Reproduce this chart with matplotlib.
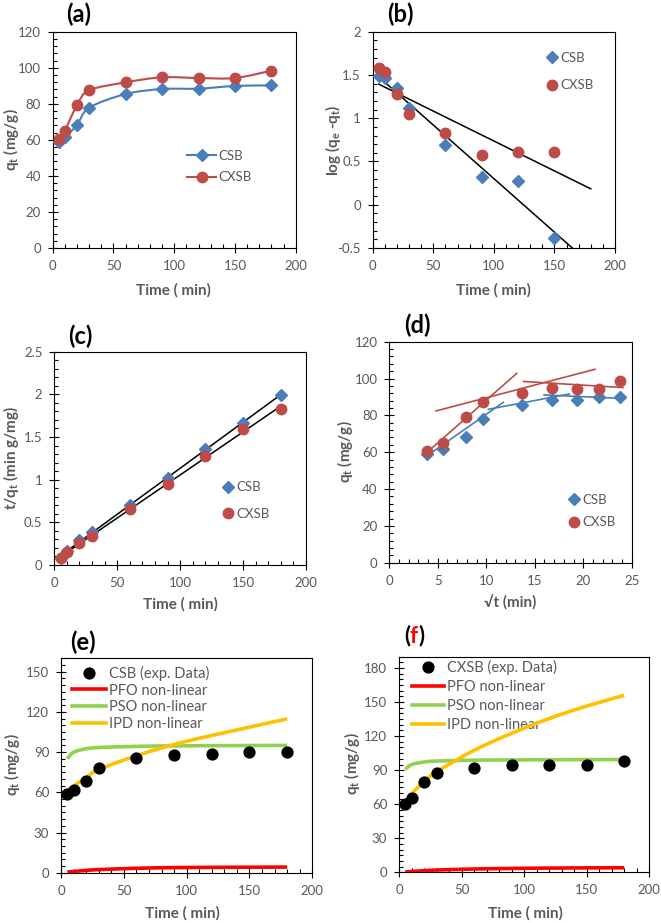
import numpy as np
import matplotlib
matplotlib.use('Agg')
import matplotlib.pyplot as plt
from matplotlib.path import Path
from matplotlib.patches import PathPatch
from matplotlib.lines import Line2D
from matplotlib.ticker import MultipleLocator, FuncFormatter

plt.rcParams['font.family'] = ['Lato', 'DejaVu Sans']
plt.rcParams['mathtext.fontset'] = 'custom'
plt.rcParams['mathtext.rm'] = 'Lato'
plt.rcParams['mathtext.it'] = 'Lato:italic'
plt.rcParams['mathtext.bf'] = 'Lato:bold'

#experimental data
time = [5, 10, 20, 30, 60, 90, 120, 150, 180]
qt_csb = [59.0, 61.6, 68.2, 77.8, 85.4, 88.2, 88.4, 89.9, 90.2]
qt_cxsb = [60.5, 65.1, 79.3, 87.5, 91.9, 94.7, 94.3, 94.3, 98.4]

#(b) pseudo first order, linear form
time_pfo = [5, 10, 20, 30, 60, 90, 120, 150]
log_csb = [1.488, 1.468, 1.353, 1.114, 0.686, 0.320, 0.274, -0.385]
log_cxsb = [1.584, 1.534, 1.280, 1.049, 0.825, 0.579, 0.613, 0.609]

#(c) pseudo second order, linear form
tq_csb = [0.085, 0.162, 0.293, 0.386, 0.703, 1.020, 1.357, 1.668, 1.996]
tq_cxsb = [0.083, 0.154, 0.252, 0.343, 0.653, 0.950, 1.273, 1.591, 1.829]

#(d) intraparticle diffusion
sqrt_t = [3.85, 5.57, 7.87, 9.70, 13.69, 16.75, 19.39, 21.66, 23.80]
ipd_csb_x = [(3.85, 11.76), (10.21, 18.56), (15.96, 24.0)]
ipd_csb_y = [(57.9, 87.1), (83.3, 91.6), (91.1, 89.2)]
ipd_cxsb_x = [(3.8, 13.14), (4.82, 21.2), (13.85, 24.1)]
ipd_cxsb_y = [(59.5, 102.8), (82.4, 105.0), (98.4, 95.1)]

#(e),(f) non-linear models
pfo_e = [0.4, 0.9, 1.7, 2.3, 3.3, 3.8, 4.0, 4.1, 4.2]
pso_e = [85.0, 89.9, 92.5, 93.4, 94.3, 94.6, 94.8, 94.9, 95.0]
ipd_e = [61.0, 64.5, 71.0, 77.0, 87.3, 95.7, 102.4, 108.6, 114.8]
pfo_f = [0.3, 0.7, 1.4, 2.0, 2.9, 3.4, 3.7, 3.9, 4.0]
pso_f = [90.6, 94.9, 97.2, 98.0, 98.8, 99.0, 99.2, 99.3, 99.3]
ipd_f = [61.5, 69.0, 80.0, 88.5, 107.5, 122.5, 135.5, 146.5, 156.0]

BLUE = '#4a7ebb'
RED = '#be4b48'
GRAY = '#595959'
W, H = 661, 923

fig = plt.figure(figsize=(W/100, H/100), dpi=100)

def box(l, r, t, b):
	return [l/W, 1-b/H, (r-l)/W, (b-t)/H]

def ftext(x, y, s, **kw):
	return fig.text(x/W, 1-y/H, s, **kw)

#excel style smoothed line
def smooth(ax, x, y, **kw):
	p = np.column_stack([x, y]).astype(float)
	verts = [p[0]]
	codes = [Path.MOVETO]
	n = len(p)
	for i in range(n-1):
		p0 = p[i-1] if i > 0 else p[i]
		p3 = p[i+2] if i+2 < n else p[i+1]
		verts += [p[i]+(p[i+1]-p0)/6, p[i+1]-(p3-p[i])/6, p[i+1]]
		codes += [Path.CURVE4]*3
	ax.add_patch(PathPatch(Path(verts, codes), fill=False, capstyle='butt', **kw))

def style(ax, xlim, xmaj, ylim, ymaj, ydiv=5):
	ax.set_xlim(xlim)
	ax.set_ylim(ylim)
	ax.xaxis.set_major_locator(MultipleLocator(xmaj))
	ax.xaxis.set_minor_locator(MultipleLocator(xmaj/5))
	ax.yaxis.set_major_locator(MultipleLocator(ymaj))
	ax.yaxis.set_minor_locator(MultipleLocator(ymaj/ydiv))
	fmt = FuncFormatter(lambda v, p: '%g' % round(v, 6))
	ax.xaxis.set_major_formatter(fmt)
	ax.yaxis.set_major_formatter(fmt)
	ax.tick_params(which='major', direction='inout', length=7, width=0.8,
		labelsize=9.5, labelcolor=GRAY, pad=5)
	ax.tick_params(which='minor', direction='in', length=3, width=0.8)
	for s in ax.spines.values():
		s.set_linewidth(0.8)
		s.set_color('black')

def legend(ax, handles, labels, x, y, sp, hl, fs=9.5):
	leg = ax.legend(handles, labels, loc='center left', bbox_to_anchor=(x, y),
		frameon=False, borderpad=0, borderaxespad=0, labelspacing=sp,
		handlelength=hl, handletextpad=0.2, fontsize=fs, labelcolor=GRAY, numpoints=1)
	leg.set_zorder(2)
	return leg

lab = dict(fontsize=11, fontweight='bold', color=GRAY, ha='center', va='center')
let = dict(fontsize=17, fontweight='bold', color='black', ha='center', va='center')
qlabel = r'$\mathbf{q_t}$ (mg/g)'

#(a)
ax = fig.add_axes(box(52.7, 295.7, 31.7, 248))
style(ax, (0, 200), 50, (0, 120), 20)
smooth(ax, time, qt_csb, color=BLUE, lw=1.5, zorder=2)
smooth(ax, time, qt_cxsb, color=RED, lw=1.5, zorder=2)
ax.plot(time, qt_csb, 'D', color=BLUE, ms=6.5, zorder=3)
ax.plot(time, qt_cxsb, 'o', color=RED, ms=7.5, zorder=3)
h = [Line2D([], [], color=BLUE, marker='D', ms=6.5, lw=1.5),
	Line2D([], [], color=RED, marker='o', ms=7.5, lw=1.5)]
legend(ax, h, ['CSB', 'CXSB'], 0.553, 0.377, 0.75, 2.2)
ftext(173, 290, 'Time ( min)', **lab)
ftext(11, 140, qlabel, rotation=90, **lab)
ftext(79, 14, '(a)', **let)

#(b)
ax = fig.add_axes(box(372.7, 615, 31.7, 248))
style(ax, (0, 200), 50, (-0.5, 2), 0.5)
xx = np.array([5, 180])
for y in [log_csb, log_cxsb]:
	k = np.polyfit(time_pfo, y, 1)
	ax.plot(xx, np.polyval(k, xx), color='black', lw=1.1, zorder=2)
ax.plot(time_pfo, log_csb, 'D', color=BLUE, ms=6.5, zorder=3)
ax.plot(time_pfo, log_cxsb, 'o', color=RED, ms=7.5, zorder=3)
h = [Line2D([], [], color=BLUE, marker='D', ms=6.5, ls='none'),
	Line2D([], [], color=RED, marker='o', ms=7.5, ls='none')]
legend(ax, h, ['CSB', 'CXSB'], 0.711, 0.816, 1.2, 1.0)
ftext(493, 290, 'Time ( min)', **lab)
ftext(333, 140, r'log ($\mathbf{q_e}$ -$\mathbf{q_t}$)', rotation=90, **lab)
ftext(400, 14, '(b)', **let)

#(c)
ax = fig.add_axes(box(54.3, 306, 351.7, 565))
style(ax, (0, 200), 50, (0, 2.5), 0.5)
for y in [tq_csb, tq_cxsb]:
	k = np.polyfit(time, y, 1)
	ax.plot(xx, np.polyval(k, xx), color='black', lw=1.1, zorder=2)
ax.plot(time, tq_csb, 'D', color=BLUE, ms=6.5, zorder=3)
ax.plot(time, tq_cxsb, 'o', color=RED, ms=7.5, zorder=3)
legend(ax, h, ['CSB', 'CXSB'], 0.662, 0.3025, 1.1, 1.0)
ftext(180, 604, 'Time ( min)', **lab)
ftext(11, 458, r't/$\mathbf{q_t}$ (min g/mg)', rotation=90, **lab)
ftext(80, 336, '(c)', **let)

#(d)
ax = fig.add_axes(box(389.3, 631.7, 341.7, 562.7))
style(ax, (0, 25), 5, (0, 120), 20)
for sx, sy in zip(ipd_csb_x, ipd_csb_y):
	ax.plot(sx, sy, color=BLUE, lw=1.2, zorder=2)
for sx, sy in zip(ipd_cxsb_x, ipd_cxsb_y):
	ax.plot(sx, sy, color=RED, lw=1.2, zorder=2)
ax.plot(sqrt_t, qt_csb, 'D', color=BLUE, ms=6.5, zorder=3)
ax.plot(sqrt_t, qt_cxsb, 'o', color=RED, ms=7.5, zorder=3)
legend(ax, h, ['CSB', 'CXSB'], 0.733, 0.234, 0.8, 1.0)
ftext(510, 603, '√t (min)', **lab)
ftext(345, 452, qlabel, rotation=90, **lab)
ftext(417, 325, '(d)', **let)

#(e) and (f)
panels = [
	(box(61, 312.3, 658.3, 872.7), 160, qt_csb, pfo_e, pso_e, ipd_e, 'CSB (exp. Data)', (0.044, 0.8125, 0.2, 2.3, 10.5)),
	(box(399, 649.3, 656.7, 872.3), 190, qt_cxsb, pfo_f, pso_f, ipd_f, 'CXSB (exp. Data)', (0.051, 0.818, 0.35, 2.2, 10.5)),
]
axes = []
for pos, ymax, q, pfo, pso, ipd, name, lg in panels:
	ax = fig.add_axes(pos)
	style(ax, (0, 200), 50, (0, ymax), 30, 6)
	smooth(ax, time, pfo, color='#ff0000', lw=2.6, zorder=3)
	smooth(ax, time, pso, color='#92d050', lw=2.6, zorder=3)
	smooth(ax, time, ipd, color='#ffc000', lw=2.6, zorder=3)
	ax.plot(time, q, 'o', color='black', ms=7.8, zorder=4)
	hh = [Line2D([], [], color='black', marker='o', ms=7.8, ls='none'),
		Line2D([], [], color='#ff0000', lw=2.6),
		Line2D([], [], color='#92d050', lw=2.6),
		Line2D([], [], color='#ffc000', lw=2.6)]
	legend(ax, hh, [name, 'PFO non-linear', 'PSO non-linear', 'IPD non-linear'], *lg)
	axes.append(ax)

ftext(182, 913, 'Time ( min)', **lab)
ftext(12, 765, qlabel, rotation=90, **lab)
ftext(83, 642, '(e)', **let)
ftext(525, 913, 'Time ( min)', **lab)
ftext(352, 764, qlabel, rotation=90, **lab)

#(f) label with red letter
t1 = ftext(404, 636, '(', fontsize=16, fontweight='bold', color='black', ha='left', va='center')
t2 = axes[1].annotate('f', xy=(1, 0), xycoords=t1, va='bottom', ha='left',
	fontsize=16, fontweight='bold', color='#ff0000', annotation_clip=False)
axes[1].annotate(')', xy=(1, 0), xycoords=t2, va='bottom', ha='left',
	fontsize=16, fontweight='bold', color='black', annotation_clip=False)

fig.savefig('out.png', dpi=100)
